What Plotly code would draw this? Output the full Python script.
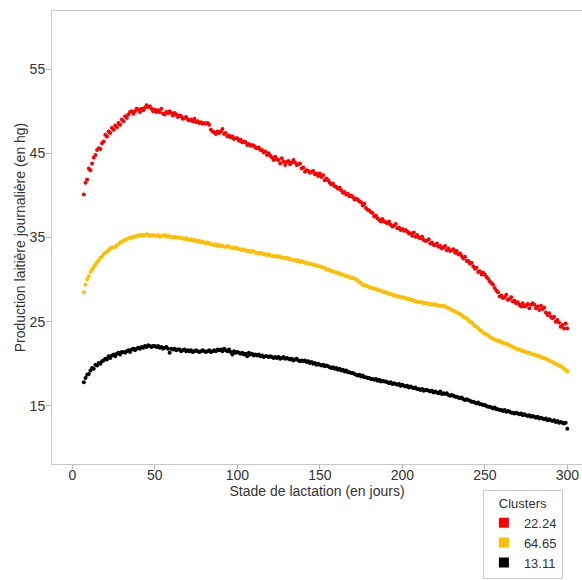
import plotly.graph_objects as go

days = list(range(7, 301))

red_vals = [
    40.1, 41.5, 41.9, 43.2,
    43.0, 43.8, 44.5, 44.8, 45.4, 45.6, 45.5, 46.2, 46.4, 47.2,
    47.0, 47.6, 47.4, 48.0, 47.8, 48.3, 48.1, 48.6, 48.4, 49.0,
    48.8, 49.4, 49.2, 49.6, 49.9, 50.0, 49.7, 50.0, 50.3, 50.2,
    49.9, 50.3, 50.1, 50.4, 50.7, 50.5, 50.6, 50.3, 50.0, 50.2,
    49.9, 50.1, 49.9, 50.3, 49.7, 49.6, 49.9, 49.8, 50.0, 49.8,
    49.5, 49.8, 49.6, 49.3, 49.5, 49.4, 49.1, 49.2, 49.3, 49.0,
    48.9, 49.0, 48.8, 49.1, 48.7, 48.8, 48.6, 48.7, 48.5, 48.6,
    48.5, 48.6, 48.4, 47.8, 47.6, 47.5, 47.3, 47.6, 47.4, 47.6,
    47.9, 47.3, 47.4, 47.0, 47.1, 46.9, 47.0, 46.7, 46.8, 46.8,
    46.5, 46.6, 46.3, 46.4, 46.3, 46.0, 46.1, 45.9, 46.0, 45.9,
    45.7, 45.6, 45.7, 45.4, 45.4, 45.1, 45.2, 44.8, 45.0, 44.7,
    44.5, 44.2, 44.6, 44.3, 44.2, 43.8, 44.4, 44.0, 43.6, 44.0,
    44.1, 43.7, 43.9, 44.2, 43.9, 43.6, 43.7, 43.8, 43.2, 43.3,
    42.8, 43.0, 42.9, 42.7, 42.8, 42.9, 42.5, 42.6, 42.3, 42.6,
    42.2, 42.4, 41.8, 42.0, 41.8, 41.5, 41.3, 41.4, 41.1, 41.0,
    40.8, 40.9, 40.6, 40.3, 40.4, 40.1, 40.2, 39.9, 40.0, 39.8,
    39.5, 39.6, 39.5, 39.3, 39.2, 38.8, 39.0, 38.5, 38.3, 38.2,
    38.0, 37.9, 37.5, 37.6, 37.3, 37.1, 36.9, 37.2, 36.9, 36.8,
    36.7, 36.9, 36.5, 36.3, 36.4, 36.6, 36.1, 36.2, 35.9, 36.0,
    35.8, 35.9, 35.7, 35.5, 35.5, 35.2, 35.6, 35.1, 35.3, 35.0,
    34.9, 35.1, 34.7, 34.6, 34.6, 34.8, 34.3, 34.4, 34.1, 34.1,
    34.3, 33.9, 34.0, 33.7, 33.8, 34.0, 33.5, 33.7, 33.4, 33.5,
    33.6, 33.2, 33.4, 33.0, 33.1, 32.8, 32.5, 32.7, 32.2, 32.2,
    31.9, 32.0, 31.6, 31.3, 31.4, 30.9, 31.0, 30.6, 30.8, 30.6,
    30.3, 30.1, 29.8, 29.6, 29.4, 29.0, 28.7, 28.5, 28.0, 28.1,
    27.8, 27.9, 28.2, 27.6, 27.7, 27.9, 27.4, 27.5, 27.2, 27.3,
    27.0, 26.8, 27.2, 26.8, 26.9, 27.1, 26.6, 27.0, 27.2, 27.0,
    26.6, 26.8, 26.4, 26.9, 26.5, 26.7, 26.1, 25.8, 26.0, 25.6,
    25.4, 25.6, 25.0, 25.2, 24.9, 24.4, 24.6, 24.2, 24.8, 24.2,
]

yellow_vals = [
    28.5, 29.4, 30.0, 30.4,
    30.9, 31.2, 31.5, 31.8, 32.1, 32.3, 32.6, 32.7, 33.0, 33.2,
    33.3, 33.5, 33.7, 33.8, 33.8, 33.9, 34.1, 34.2, 34.4, 34.5,
    34.6, 34.7, 34.8, 34.9, 34.9, 35.0, 35.1, 35.1, 35.2, 35.2,
    35.3, 35.2, 35.3, 35.3, 35.4, 35.2, 35.3, 35.2, 35.3, 35.2,
    35.2, 35.3, 35.1, 35.2, 35.2, 35.3, 35.1, 35.2, 35.1, 35.1,
    35.0, 35.1, 35.0, 35.0, 35.0, 34.9, 34.9, 34.8, 34.9, 34.8,
    34.7, 34.8, 34.6, 34.7, 34.6, 34.5, 34.6, 34.4, 34.5, 34.4,
    34.3, 34.4, 34.3, 34.2, 34.2, 34.1, 34.2, 34.0, 34.1, 34.0,
    34.0, 33.9, 33.9, 34.0, 33.9, 33.8, 33.8, 33.7, 33.8, 33.7,
    33.6, 33.6, 33.5, 33.6, 33.5, 33.4, 33.4, 33.3, 33.4, 33.3,
    33.2, 33.2, 33.1, 33.2, 33.1, 33.0, 33.0, 32.9, 33.0, 32.9,
    32.8, 32.8, 32.7, 32.8, 32.7, 32.7, 32.6, 32.6, 32.5, 32.6,
    32.5, 32.4, 32.4, 32.3, 32.3, 32.2, 32.3, 32.1, 32.2, 32.1,
    32.0, 32.0, 31.9, 31.9, 31.8, 31.8, 31.7, 31.7, 31.6, 31.6,
    31.5, 31.4, 31.4, 31.2, 31.2, 31.1, 31.0, 31.0, 30.9, 30.8,
    30.8, 30.7, 30.6, 30.6, 30.5, 30.4, 30.4, 30.3, 30.2, 30.2,
    30.1, 30.0, 29.9, 29.7, 29.6, 29.4, 29.3, 29.3, 29.2, 29.1,
    29.0, 29.0, 28.9, 28.9, 28.8, 28.7, 28.7, 28.6, 28.5, 28.5,
    28.4, 28.3, 28.3, 28.2, 28.1, 28.1, 28.0, 28.0, 27.9, 27.9,
    27.8, 27.8, 27.7, 27.7, 27.6, 27.6, 27.5, 27.4, 27.4, 27.3,
    27.3, 27.3, 27.2, 27.2, 27.2, 27.1, 27.1, 27.0, 27.1, 27.0,
    27.0, 26.9, 26.9, 26.9, 26.9, 26.8, 26.7, 26.6, 26.5, 26.4,
    26.3, 26.2, 26.1, 26.0, 25.9, 25.8, 25.6, 25.5, 25.4, 25.2,
    25.0, 24.9, 24.7, 24.5, 24.4, 24.2, 24.0, 23.9, 23.7, 23.6,
    23.5, 23.4, 23.2, 23.1, 23.0, 22.9, 22.8, 22.7, 22.7, 22.6,
    22.5, 22.4, 22.4, 22.3, 22.2, 22.1, 22.0, 21.9, 21.8, 21.7,
    21.7, 21.6, 21.5, 21.5, 21.4, 21.3, 21.3, 21.2, 21.1, 21.1,
    21.0, 21.0, 20.9, 20.8, 20.7, 20.7, 20.6, 20.5, 20.4, 20.3,
    20.2, 20.1, 20.0, 19.9, 19.8, 19.7, 19.6, 19.4, 19.3, 19.1,
]

black_vals = [
    17.8, 18.3, 18.7, 18.8,
    19.2, 19.5, 19.4, 19.9, 19.8, 20.1, 20.0, 20.3, 20.4, 20.6,
    20.5, 20.9, 20.7, 21.0, 21.1, 20.9, 21.2, 21.3, 21.1, 21.4,
    21.4, 21.3, 21.5, 21.6, 21.4, 21.7, 21.8, 21.6, 21.8, 21.9,
    21.8, 22.0, 21.9, 22.1, 22.0, 22.2, 22.1, 22.0, 22.1, 22.1,
    22.0, 22.1, 21.9, 22.0, 21.8, 21.9, 22.0, 21.8, 21.3, 21.8,
    21.7, 21.8, 21.6, 21.7, 21.7, 21.5, 21.6, 21.7, 21.5, 21.6,
    21.5, 21.6, 21.4, 21.5, 21.6, 21.5, 21.4, 21.5, 21.6, 21.5,
    21.4, 21.5, 21.6, 21.4, 21.5, 21.6, 21.5, 21.7, 21.6, 21.7,
    21.5, 21.8, 21.6, 21.5, 21.7, 21.4, 21.1, 21.5, 21.3, 21.4,
    21.3, 21.2, 21.3, 21.1, 21.2, 20.9, 21.3, 21.1, 21.2, 21.0,
    21.1, 21.0, 21.1, 20.9, 21.0, 20.8, 20.9, 20.9, 20.8, 20.9,
    20.8, 20.7, 20.8, 20.7, 20.8, 20.6, 20.7, 20.8, 20.6, 20.7,
    20.6, 20.5, 20.6, 20.4, 20.5, 20.6, 20.4, 20.3, 20.4, 20.3,
    20.4, 20.2, 20.3, 20.1, 20.2, 20.0, 20.1, 19.9, 20.0, 19.9,
    19.8, 19.9, 19.7, 19.8, 19.7, 19.6, 19.5, 19.6, 19.4, 19.5,
    19.3, 19.4, 19.2, 19.3, 19.1, 19.2, 19.0, 19.0, 18.9, 18.9,
    18.8, 18.7, 18.6, 18.7, 18.5, 18.6, 18.4, 18.4, 18.3, 18.3,
    18.2, 18.2, 18.1, 18.2, 18.0, 18.1, 17.9, 18.0, 17.9, 17.9,
    17.8, 17.7, 17.8, 17.6, 17.7, 17.6, 17.5, 17.6, 17.4, 17.5,
    17.4, 17.3, 17.4, 17.2, 17.3, 17.2, 17.1, 17.2, 17.0, 17.0,
    16.9, 17.0, 16.8, 16.9, 16.9, 16.8, 16.7, 16.8, 16.6, 16.7,
    16.6, 16.5, 16.7, 16.4, 16.5, 16.4, 16.5, 16.3, 16.2, 16.3,
    16.2, 16.1, 16.1, 16.0, 15.9, 16.0, 15.8, 15.7, 15.8, 15.7,
    15.6, 15.5, 15.5, 15.4, 15.3, 15.4, 15.2, 15.2, 15.1, 15.1,
    15.0, 14.9, 14.9, 14.8, 14.7, 14.8, 14.6, 14.6, 14.5, 14.5,
    14.4, 14.5, 14.3, 14.4, 14.3, 14.2, 14.2, 14.1, 14.2, 14.1,
    14.0, 14.1, 13.9, 14.0, 13.9, 13.8, 13.9, 13.7, 13.8, 13.7,
    13.6, 13.7, 13.5, 13.6, 13.5, 13.4, 13.5, 13.3, 13.4, 13.3,
    13.2, 13.3, 13.1, 13.2, 13.0, 13.1, 13.0, 12.9, 13.0, 12.3,
]

cluster_names = ["22.24", "64.65", "13.11"]
cluster_colors = ["#FF0000", "#FFBF00", "#000000"]
series = [red_vals, yellow_vals, black_vals]

x_ticks = [0, 50, 100, 150, 200, 250, 300]
y_ticks = [15, 25, 35, 45, 55]

fig = go.Figure()
for name, color, vals in zip(cluster_names, cluster_colors, series):
    fig.add_trace(go.Scatter(
        x=days, y=vals, mode="markers", name=name, showlegend=False,
        marker=dict(color=color, size=4, line=dict(width=0)),
    ))
for name, color in zip(cluster_names, cluster_colors):
    fig.add_trace(go.Scatter(
        x=[None], y=[None], mode="markers", name=name,
        marker=dict(color=color, size=10, symbol="square", line=dict(width=0)),
    ))

font_family = "Liberation Sans, Arial, sans-serif"
fig.update_layout(
    width=582, height=580,
    margin=dict(l=52, r=0, t=11, b=116, autoexpand=False),
    paper_bgcolor="white", plot_bgcolor="white",
    font=dict(family=font_family, size=14, color="#333333"),
    xaxis=dict(
        range=[-12.3, 308.9], tickvals=x_ticks, ticks="outside", ticklen=4,
        tickcolor="#b0b0b0", showgrid=False, zeroline=False, automargin=False,
        showline=True, linecolor="#c8c8c8", linewidth=1, mirror=True,
        ticklabelstandoff=-6,
        title=dict(text="Stade de lactation (en jours)", standoff=0,
                   font=dict(size=14, color="#333333")),
        tickfont=dict(size=14, color="#333333"),
    ),
    yaxis=dict(
        range=[8.1, 61.9], tickvals=y_ticks, ticks="outside", ticklen=5,
        tickcolor="#b0b0b0", showgrid=False, zeroline=False, automargin=False,
        showline=True, linecolor="#c8c8c8", linewidth=1,
        ticklabelstandoff=-2,
        title=dict(text="Production laitière journalière (en hg)", standoff=0,
                   font=dict(size=14, color="#333333")),
        tickfont=dict(size=14, color="#333333"),
    ),
    legend=dict(
        title=dict(text="Clusters", side="top center", font=dict(size=13)),
        x=0.813, y=-0.057, xanchor="left", yanchor="top",
        bordercolor="#c8c8c8", borderwidth=1, bgcolor="white",
        font=dict(size=13), itemsizing="trace",
    ),
)

fig.write_html(
    "out.html",
    config={"displayModeBar": False},
    post_script="document.body.style.margin='0';document.body.style.overflow='hidden';",
)
